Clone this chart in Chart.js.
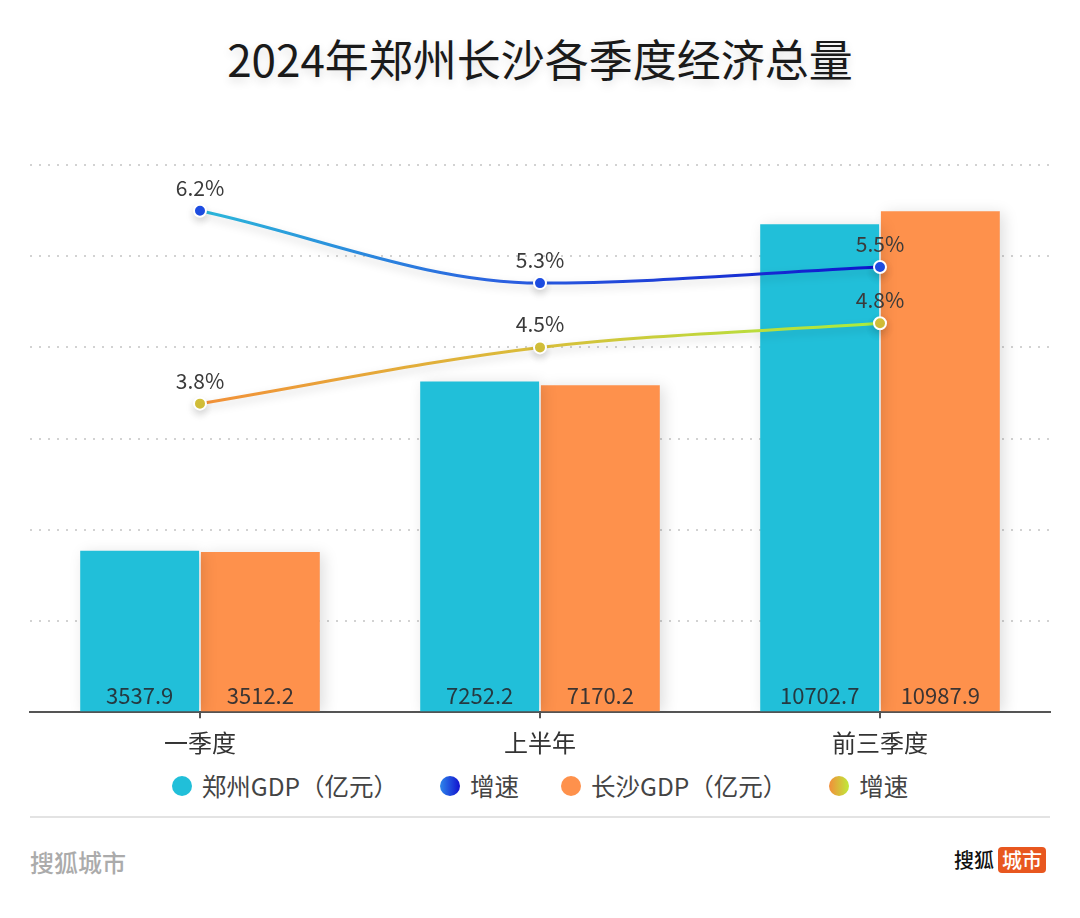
<!DOCTYPE html>
<html><head><meta charset="utf-8">
<script src="https://cdn.jsdelivr.net/npm/chart.js@4.4.1/dist/chart.umd.min.js"></script>
<style>
html,body{margin:0;padding:0;background:#fff;}
body{width:1080px;height:918px;position:relative;overflow:hidden;font-family:"Noto Sans CJK SC","Noto Sans",sans-serif;}
#title{position:absolute;top:30px;left:0;width:1080px;text-align:center;font-size:44px;font-weight:400;color:#1a1a1a;line-height:56px;text-shadow:0 4px 10px rgba(0,0,0,0.13);}
#wrap{position:absolute;top:120px;left:0;width:1080px;height:647px;}
#legend{position:absolute;top:770px;left:0;width:1080px;display:flex;justify-content:center;align-items:center;font-size:24.5px;line-height:32px;color:#444;}
.li{display:flex;align-items:center;margin:0 21px;}
.dot{width:20px;height:20px;border-radius:50%;margin-right:10px;}
#sep{position:absolute;top:816px;left:30px;width:1020px;height:2px;background:#e3e3e3;}
#src{position:absolute;left:30px;top:845px;font-size:24px;line-height:34px;color:#ababab;font-weight:500;}
#logo{position:absolute;right:34px;top:847px;display:flex;align-items:center;font-size:20px;line-height:26px;color:#111;font-weight:500;}
#logo .b{background:#E8571F;color:#fff;border-radius:4px;padding:0 4px;margin-left:4px;}
</style></head>
<body>
<div id="title">2024年郑州长沙各季度经济总量</div>
<div id="wrap"><canvas id="c"></canvas></div>
<div id="legend"></div>
<div id="sep"></div>
<div id="src">搜狐城市</div>
<div id="logo"><span>搜狐</span><span class="b">城市</span></div>
<script>
const categories = ['一季度', '上半年', '前三季度'];
const zzGDP = [3537.9, 7252.2, 10702.7];
const csGDP = [3512.2, 7170.2, 10987.9];
const zzGrowth = [6.2, 5.3, 5.5];
const csGrowth = [3.8, 4.5, 4.8];
const seriesNames = ['郑州GDP（亿元）', '增速', '长沙GDP（亿元）', '增速'];
const gdpAxis = {min: 0, max: 12000, step: 2000};

const FONT = '"Noto Sans CJK SC","Noto Sans",sans-serif';
const CYAN = '#21BFD9', ORANGE = '#FE914C';

function hGrad(chart, stops) {
  const x = chart.scales.x;
  if (!chart.chartArea || !x) return stops[0][1];
  const x0 = x.getPixelForValue(0), x1 = x.getPixelForValue(categories.length - 1);
  if (!isFinite(x0) || !isFinite(x1) || x0 === x1) return stops[0][1];
  const g = chart.ctx.createLinearGradient(x0, 0, x1, 0);
  stops.forEach(s => g.addColorStop(s[0], s[1]));
  return g;
}
const zzStops = [[0, '#2BB8DA'], [0.45, '#2A5FE0'], [1, '#0D14CC']];
const csStops = [[0, '#F29038'], [0.5, '#D9BE3A'], [1, '#A9EE3E']];

const shadowPlugin = {
  id: 'shadow',
  beforeDatasetDraw(chart, args) {
    const ds = chart.data.datasets[args.index];
    const ctx = chart.ctx;
    ctx.save();
    if (ds.type === 'bar') {
      ctx.shadowColor = 'rgba(0,0,0,0.13)'; ctx.shadowBlur = 14; ctx.shadowOffsetX = 4; ctx.shadowOffsetY = 2;
    } else {
      ctx.shadowColor = 'rgba(0,0,0,0.16)'; ctx.shadowBlur = 8; ctx.shadowOffsetY = 4;
    }
  },
  afterDatasetDraw(chart) { chart.ctx.restore(); }
};

const labelPlugin = {
  id: 'valueLabels',
  afterDatasetsDraw(chart) {
    const ctx = chart.ctx;
    const y0 = chart.scales.y.getPixelForValue(0);
    ctx.save();
    ctx.textAlign = 'center';
    ctx.textBaseline = 'middle';
    chart.data.datasets.forEach((ds, i) => {
      const meta = chart.getDatasetMeta(i);
      meta.data.forEach((el, j) => {
        const v = ds.data[j];
        if (ds.type === 'bar') {
          ctx.font = '22px ' + FONT;
          ctx.fillStyle = 'rgba(38,42,48,0.9)';
          ctx.fillText(v.toFixed(1), el.x, y0 - 17);
        } else {
          ctx.font = '21px ' + FONT;
          ctx.fillStyle = '#3a3a3a';
          ctx.fillText(v.toFixed(1) + '%', el.x, el.y - 23);
        }
      });
    });
    ctx.restore();
  }
};

const chart = new Chart(document.getElementById('c'), {
  data: {
    labels: categories,
    datasets: [
      {type: 'bar', label: seriesNames[0], data: zzGDP, backgroundColor: CYAN, yAxisID: 'y', order: 2,
       categoryPercentage: 0.71, barPercentage: 0.985},
      {type: 'line', label: seriesNames[1], data: zzGrowth, yAxisID: 'y1', order: 1,
       borderColor: c => hGrad(c.chart, zzStops), borderWidth: 3, cubicInterpolationMode: 'monotone',
       pointRadius: 6, pointBorderWidth: 2, pointBorderColor: '#fff', pointBackgroundColor: '#1E4FE8'},
      {type: 'bar', label: seriesNames[2], data: csGDP, backgroundColor: ORANGE, yAxisID: 'y', order: 2,
       categoryPercentage: 0.71, barPercentage: 0.985},
      {type: 'line', label: seriesNames[3], data: csGrowth, yAxisID: 'y1', order: 1,
       borderColor: c => hGrad(c.chart, csStops), borderWidth: 3, cubicInterpolationMode: 'monotone',
       pointRadius: 6, pointBorderWidth: 2, pointBorderColor: '#fff', pointBackgroundColor: '#D7C33A'}
    ]
  },
  options: {
    responsive: true, maintainAspectRatio: false, animation: false,
    layout: {padding: {left: 30, right: 30, top: 45, bottom: 0}},
    plugins: {legend: {display: false}, tooltip: {enabled: false}},
    scales: {
      x: {
        type: 'category', offset: true,
        grid: {display: true, drawOnChartArea: false, drawTicks: true, tickLength: 6, color: '#555', lineWidth: 2, offset: false},
        border: {display: true, color: '#555', width: 2},
        ticks: {font: {size: 24, family: FONT}, color: '#333', padding: 10}
      },
      y: {
        min: gdpAxis.min, max: gdpAxis.max,
        ticks: {stepSize: gdpAxis.step, display: false},
        grid: {color: '#d2d2d2', lineWidth: 2, drawTicks: false},
        border: {display: false, dash: [2, 7]}
      },
      y1: {display: false, min: -0.04, max: 6.77}
    }
  },
  plugins: [shadowPlugin, labelPlugin]
});

// HTML legend from dataset definitions
const legendDots = [CYAN, 'linear-gradient(90deg,#2E86EA,#1212CF)', ORANGE, 'linear-gradient(90deg,#F28E3A,#BFEA3A)'];
const lg = document.getElementById('legend');
chart.data.datasets.forEach((ds, i) => {
  const item = document.createElement('div'); item.className = 'li';
  const d = document.createElement('span'); d.className = 'dot'; d.style.background = legendDots[i];
  const t = document.createElement('span'); t.textContent = ds.label;
  item.appendChild(d); item.appendChild(t); lg.appendChild(item);
});
</script>
</body></html>
